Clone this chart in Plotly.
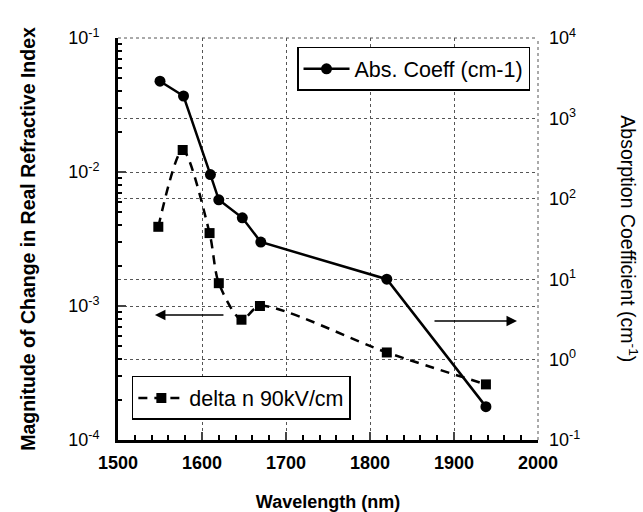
import plotly.graph_objects as go

# Data
abs_wavelength = [1550, 1578, 1610, 1620, 1648, 1670, 1820, 1938]
abs_coeff = [2900, 1900, 200, 97, 58, 29, 10, 0.26]

dn_wavelength = [1548, 1577, 1609, 1620, 1647, 1669, 1820, 1938]
delta_n = [0.0039, 0.0146, 0.0035, 0.00148, 0.00079, 0.0010, 0.00045, 0.00026]

x_ticks = [1500, 1600, 1700, 1800, 1900, 2000]
left_ticks = [1e-4, 1e-3, 1e-2, 1e-1]
left_text = ["10<sup>-4</sup>", "10<sup>-3</sup>", "10<sup>-2</sup>", "10<sup>-1</sup>"]
right_ticks = [1e-1, 1e0, 1e1, 1e2, 1e3, 1e4]
right_text = ["10<sup>-1</sup>", "10<sup>0</sup>", "10<sup>1</sup>", "10<sup>2</sup>", "10<sup>3</sup>", "10<sup>4</sup>"]

FONT = "Liberation Sans, Arial, sans-serif"
GRID = "#555555"

fig = go.Figure()
fig.add_trace(go.Scatter(
    x=abs_wavelength, y=abs_coeff, yaxis="y2", name="Abs. Coeff (cm-1)",
    mode="lines+markers", line=dict(color="black", width=2.5),
    marker=dict(symbol="circle", size=11, color="black"), legend="legend"))
fig.add_trace(go.Scatter(
    x=dn_wavelength, y=delta_n, yaxis="y", name="delta n 90kV/cm",
    mode="lines+markers", line=dict(color="black", width=2.5, dash="9px,7px", shape="spline", smoothing=0.8),
    marker=dict(symbol="square", size=10, color="black"), legend="legend2"))

fig.update_layout(
    width=643, height=512,
    margin=dict(l=118, r=105, t=38, b=72, autoexpand=False),
    paper_bgcolor="white", plot_bgcolor="white",
    font=dict(family=FONT, color="black"),
    xaxis=dict(
        range=[1500, 2000], tickvals=x_ticks, ticks="inside", ticklen=8, tickwidth=2,
        showline=True, linewidth=3, linecolor="black", automargin=False,
        showgrid=True, gridcolor=GRID, griddash="dot", gridwidth=1,
        tickfont=dict(size=18, family=FONT, weight="bold"), ticklabelstandoff=4,
        minor=dict(dtick=20, ticks="inside", ticklen=5, tickwidth=1.5, tickcolor="black", showgrid=False),
        title=dict(text="<b>Wavelength (nm)</b>", font=dict(size=18), standoff=24),
        zeroline=False),
    yaxis=dict(
        type="log", range=[-4, -1], tickvals=left_ticks, ticktext=left_text,
        ticks="inside", ticklen=8, tickwidth=2, automargin=False,
        showline=True, linewidth=3, linecolor="black",
        showgrid=True, gridcolor=GRID, griddash="dot", gridwidth=1,
        tickfont=dict(size=18), ticklabelstandoff=12,
        minor=dict(dtick="D1", ticks="inside", ticklen=4, tickwidth=1.5, tickcolor="black", showgrid=False),
        title=dict(text="<b>Magnitude of Change in Real Refractive Index</b>", font=dict(size=19.5), standoff=28),
        zeroline=False),
    yaxis2=dict(
        type="log", range=[-1, 4], tickvals=right_ticks, ticktext=right_text,
        overlaying="y", side="right", ticks="", showline=False, automargin=False,
        showgrid=True, gridcolor=GRID, griddash="dot", gridwidth=1,
        tickfont=dict(size=18), ticklabelstandoff=10, zeroline=False),
    legend=dict(
        x=0.981, y=0.978, xanchor="right", yanchor="top",
        bgcolor="white", bordercolor="black", borderwidth=1.5,
        font=dict(size=21.5), itemwidth=46),
    legend2=dict(
        x=0.033, y=0.05, xanchor="left", yanchor="bottom",
        bgcolor="white", bordercolor="black", borderwidth=1.5,
        font=dict(size=21.5), itemwidth=46),
    showlegend=True,
)

# Dotted top and right frame edges
fig.add_shape(type="line", xref="paper", yref="paper", x0=0, x1=1, y0=1, y1=1,
              line=dict(color=GRID, width=1, dash="dot"))
fig.add_shape(type="line", xref="paper", yref="paper", x0=1, x1=1, y0=0, y1=1,
              line=dict(color=GRID, width=1, dash="dot"))

# Arrows indicating axis association
fig.add_annotation(xref="paper", yref="paper", x=0.088, y=0.311, ax=70, ay=0,
                   showarrow=True, arrowhead=2, arrowsize=1.4, arrowwidth=1.5, arrowcolor="black", text="")
fig.add_annotation(xref="paper", yref="paper", x=0.95, y=0.296, ax=-84, ay=0,
                   showarrow=True, arrowhead=2, arrowsize=1.4, arrowwidth=1.5, arrowcolor="black", text="")

# Right axis title (reads top to bottom)
fig.add_annotation(xref="paper", yref="paper", x=1.216, y=0.5, xanchor="center", yanchor="middle",
                   text="Absorption Coefficient (cm<sup>-1</sup>)", textangle=90,
                   showarrow=False, font=dict(size=19.5))

fig.write_html("out.html")
